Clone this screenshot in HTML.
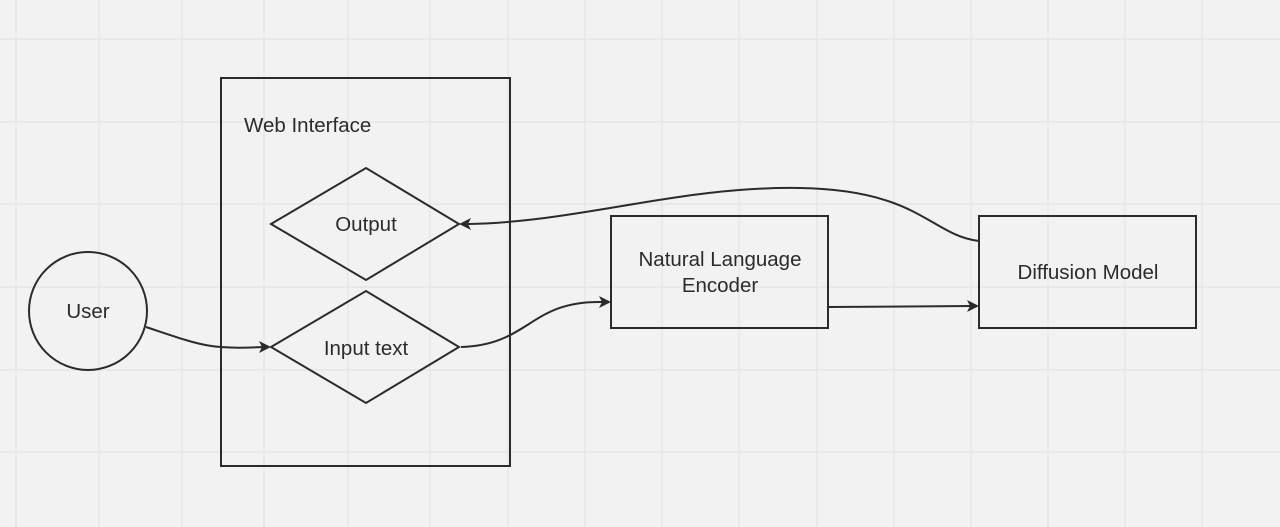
<!DOCTYPE html>
<html><head><style>
html,body{margin:0;padding:0;background:#f2f2f2;}
svg{display:block}
text{font-family:"Liberation Sans","DejaVu Sans",sans-serif;font-size:20.5px;fill:#2b2b2b}
</style></head><body>
<svg width="1280" height="527" viewBox="0 0 1280 527" xmlns="http://www.w3.org/2000/svg">
<rect width="1280" height="527" fill="#f2f2f2"/>
<g stroke="#e4e4e4" stroke-width="1.2">
<line x1="16" y1="0" x2="16" y2="527"/><line x1="99" y1="0" x2="99" y2="527"/><line x1="182" y1="0" x2="182" y2="527"/><line x1="264" y1="0" x2="264" y2="527"/><line x1="348" y1="0" x2="348" y2="527"/><line x1="430" y1="0" x2="430" y2="527"/><line x1="508" y1="0" x2="508" y2="527"/><line x1="585" y1="0" x2="585" y2="527"/><line x1="662" y1="0" x2="662" y2="527"/><line x1="739" y1="0" x2="739" y2="527"/><line x1="817" y1="0" x2="817" y2="527"/><line x1="894" y1="0" x2="894" y2="527"/><line x1="971" y1="0" x2="971" y2="527"/><line x1="1048" y1="0" x2="1048" y2="527"/><line x1="1125" y1="0" x2="1125" y2="527"/><line x1="1202" y1="0" x2="1202" y2="527"/>
<line x1="0" y1="39" x2="1280" y2="39"/><line x1="0" y1="122" x2="1280" y2="122"/><line x1="0" y1="204" x2="1280" y2="204"/><line x1="0" y1="287" x2="1280" y2="287"/><line x1="0" y1="370" x2="1280" y2="370"/><line x1="0" y1="452" x2="1280" y2="452"/>
</g>
<g fill="none" stroke="#2b2b2b" stroke-width="2">
<rect x="221" y="78" width="289" height="388"/>
<polygon points="271,224 366,168 459,224 366,280"/>
<polygon points="271,347 366,291 459,347 366,403"/>
<circle cx="88" cy="311" r="59"/>
<rect x="611" y="216" width="217" height="112"/>
<rect x="979" y="216" width="217" height="112"/>
<path d="M146,327 C200,345 210,350 262,347"/>
<path d="M461,347 C530,345 530,300 603,302"/>
<path d="M828,307 L971,306"/>
<path d="M979,241 C930,235 920,190 800,188 C680,186 580,222 468,224"/>
</g>
<g fill="#2b2b2b">
<polygon points="271,347 259,341 262,347 259,353"/>
<polygon points="611,302 599,296 602,302 599,308"/>
<polygon points="979,306 967,300 970,306 967,312"/>
<polygon points="459,224 471,218 468,224 471,230"/>
</g>
<text x="244" y="132">Web Interface</text>
<text x="366" y="231" text-anchor="middle">Output</text>
<text x="366" y="355" text-anchor="middle">Input text</text>
<text x="88" y="318" text-anchor="middle">User</text>
<text x="720" y="266" text-anchor="middle">Natural Language</text>
<text x="720" y="292" text-anchor="middle">Encoder</text>
<text x="1088" y="279" text-anchor="middle">Diffusion Model</text>
</svg>
</body></html>
